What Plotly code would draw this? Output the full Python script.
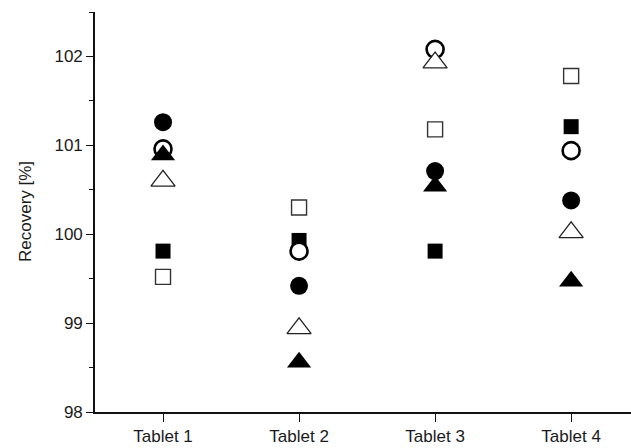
import plotly.graph_objects as go

# Tablets on the x axis
tablets = ["Tablet 1", "Tablet 2", "Tablet 3", "Tablet 4"]

# Recovery values (%) per method, one value per tablet
open_square = [99.52, 100.30, 101.18, 101.78]
filled_square = [99.81, 99.93, 99.81, 101.21]
filled_circle = [101.26, 99.42, 100.71, 100.38]
open_circle = [100.96, 99.81, 102.08, 100.94]
open_triangle = [100.60, 98.94, 101.93, 100.02]
filled_triangle = [100.89, 98.56, 100.54, 99.47]

y_ticks = [98, 99, 100, 101, 102]
y_title = "Recovery [%]"

series = [
    ("Method A", open_square, "square", 15, "white", "#333333", 1.4),
    ("Method B", filled_square, "square", 15, "black", "black", 0),
    ("Method C", filled_circle, "circle", 18, "black", "black", 0),
    ("Method D", open_circle, "circle", 17, "white", "black", 2.6),
    ("Method E", open_triangle, "triangle-up", 21, "white", "#222222", 1.3),
    ("Method F", filled_triangle, "triangle-up", 21, "black", "black", 0),
]

fig = go.Figure()
for name, vals, sym, size, fill, line_color, line_w in series:
    fig.add_trace(go.Scatter(
        x=tablets, y=vals, mode="markers", name=name,
        marker=dict(symbol=sym, size=size, color=fill,
                    line=dict(color=line_color, width=line_w)),
    ))

font = dict(family="Liberation Sans, Arial, sans-serif", size=17, color="#1a1a1a")

plot_w = 631 - 95

fig.update_layout(
    width=631, height=448,
    margin=dict(l=95, r=0, t=12, b=36),
    paper_bgcolor="white", plot_bgcolor="white",
    showlegend=False,
    font=font,
    xaxis=dict(
        type="category", range=[-0.5, 3.44],
        showline=True, linecolor="#111111", linewidth=1.6,
        ticks="outside", ticklen=8, tickwidth=1.4, tickcolor="#111111",
        showgrid=False, zeroline=False,
        tickfont=font,
    ),
    yaxis=dict(
        range=[98, 102.5],
        tickvals=y_ticks, ticktext=[str(v) for v in y_ticks],
        showline=True, linecolor="#111111", linewidth=1.6,
        ticks="outside", ticklen=7, tickwidth=1.4, tickcolor="#111111",
        minor=dict(dtick=0.5, ticks="outside", ticklen=4, tickwidth=1.2, tickcolor="#111111"),
        showgrid=False, zeroline=False,
        tickfont=font,
    ),
    annotations=[dict(
        text=y_title, textangle=-90, showarrow=False,
        xref="paper", x=(25 - 95) / plot_w, xanchor="center",
        yref="paper", y=0.5, yanchor="middle",
        font=font,
    )],
)

fig.write_html("out.html")
